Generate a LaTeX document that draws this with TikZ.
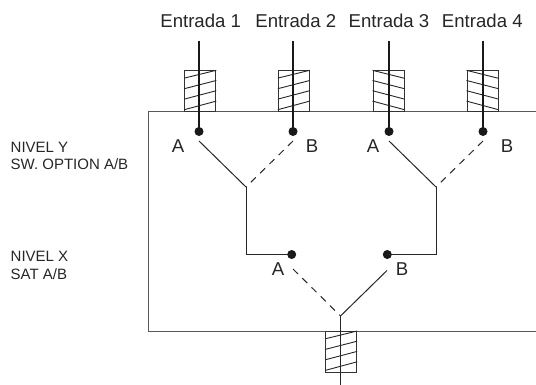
\documentclass[tikz,border=0pt]{standalone}
\usepackage{fontspec}
\setmainfont{Liberation Sans}
\tikzset{
  x=1pt,y=-1pt,
  lbl/.style={inner sep=0pt,text=black!85,font=\fontsize{18.6}{18}\selectfont,anchor=center},
  small/.style={inner sep=0pt,text=black!85,font=\fontsize{15}{18}\selectfont,anchor=base west},
  wire/.style={line width=1.6pt,black!90},
  sig/.style={line width=1pt,black!85},
  dashsig/.style={sig,dash pattern=on 7pt off 6pt},
  dotn/.style={circle,fill=black!90,inner sep=0pt,minimum size=9pt},
  coil/.style={draw=black!80,line width=0.9pt,minimum width=31pt,minimum height=40.5pt,inner sep=0pt,fill=white},
  frame/.style={line width=0.9pt,black!65},
  hatch/.style={line width=0.9pt,black!85}
}
\usetikzlibrary{calc}
\newcommand{\hatchup}[1]{%
  \draw[hatch] ($(#1.north west)+(0,7.8)$)--(#1.north east);
  \draw[hatch] ($(#1.north west)+(0,18.4)$)--($(#1.north east)+(0,10.2)$);
  \draw[hatch] ($(#1.north west)+(0,28.8)$)--($(#1.north east)+(0,20.4)$);
  \draw[hatch] ($(#1.north west)+(0,39.4)$)--($(#1.north east)+(0,30.8)$);}
\newcommand{\hatchdown}[1]{%
  \draw[hatch] (#1.north west)--($(#1.north east)+(0,8)$);
  \draw[hatch] ($(#1.north west)+(0,10.2)$)--($(#1.north east)+(0,18.4)$);
  \draw[hatch] ($(#1.north west)+(0,20.4)$)--($(#1.north east)+(0,28.8)$);
  \draw[hatch] ($(#1.north west)+(0,30.8)$)--($(#1.north east)+(0,39.4)$);}
\begin{document}
\begin{tikzpicture}
\useasboundingbox (0,0) rectangle (536,385);
% frame
\coordinate (fr) at (536,111);
\coordinate (ftl) at (148,111);
\coordinate (fbl) at (148,331.5);
\coordinate (fbr) at (536,331.5);
\draw[frame] (fr)--(ftl)--(fbl)--(fbr);
% coils
\node[coil] (c1) at (200.3,91) {};
\node[coil] (c2) at (293.8,91) {};
\node[coil] (c3) at (388.5,91) {};
\node[coil] (c4) at (482.5,91) {};
\node[coil] (c5) at (341.2,351.7) {};
\hatchup{c1}\hatchup{c2}\hatchdown{c3}\hatchdown{c4}\hatchup{c5}
% labels
\node[lbl] (e1) at (200.7,21) {Entrada 1};
\node[lbl] (e2) at (295.8,21) {Entrada 2};
\node[lbl] (e3) at (389,21) {Entrada 3};
\node[lbl] (e4) at (482.3,21) {Entrada 4};
% input ends and dots
\coordinate (i1) at (199,41);
\coordinate (i2) at (293,41);
\coordinate (i3) at (389,41);
\coordinate (i4) at (483,41);
\node[dotn] (d1) at (199,131.5) {};
\node[dotn] (d2) at (293,131.5) {};
\node[dotn] (d3) at (389,131.5) {};
\node[dotn] (d4) at (483,131.5) {};
\draw[wire] (i1)--(d1.center);
\draw[wire] (i2)--(d2.center);
\draw[wire] (i3)--(d3.center);
\draw[wire] (i4)--(d4.center);
% switches level Y
\coordinate (s1) at (199,141);
\coordinate (s2) at (293,141);
\coordinate (s3) at (389,141);
\coordinate (s4) at (483,141);
\coordinate (jl) at (246,187);
\coordinate (jr) at (436,187);
\node[dotn] (dl) at (291.7,254.5) {};
\node[dotn] (dr) at (387.3,254.5) {};
\draw[sig] (s1)--(jl);
\draw[dashsig] (s2)--(jl);
\draw[sig] (s3)--(jr);
\draw[dashsig] (s4)--(jr);
\draw[sig] (jl)|-(dl.center);
\draw[sig] (jr)|-(dr.center);
% level X
\coordinate (sa) at (293,269);
\coordinate (sb) at (387,270.5);
\coordinate (jb) at (340.5,316);
\coordinate (out) at (340.5,385);
\draw[dashsig] (sa)--(jb);
\draw[sig] (sb)--(jb);
\draw[sig] (jb)--(out);
% letter labels
\node[lbl] (a1) at (178,146) {A};
\node[lbl] (b1) at (312,146) {B};
\node[lbl] (a2) at (373,146) {A};
\node[lbl] (b2) at (507,146) {B};
\node[lbl] (a3) at (278,269) {A};
\node[lbl] (b3) at (402,269) {B};
% side labels
\node[small] (n1) at (10.5,152.5) {NIVEL Y};
\node[small] (n2) at (10.5,170) {SW. OPTION A/B};
\node[small] (n3) at (10.5,261.5) {NIVEL X};
\node[small] (n4) at (10.5,279.5) {SAT A/B};
\end{tikzpicture}
\end{document}
